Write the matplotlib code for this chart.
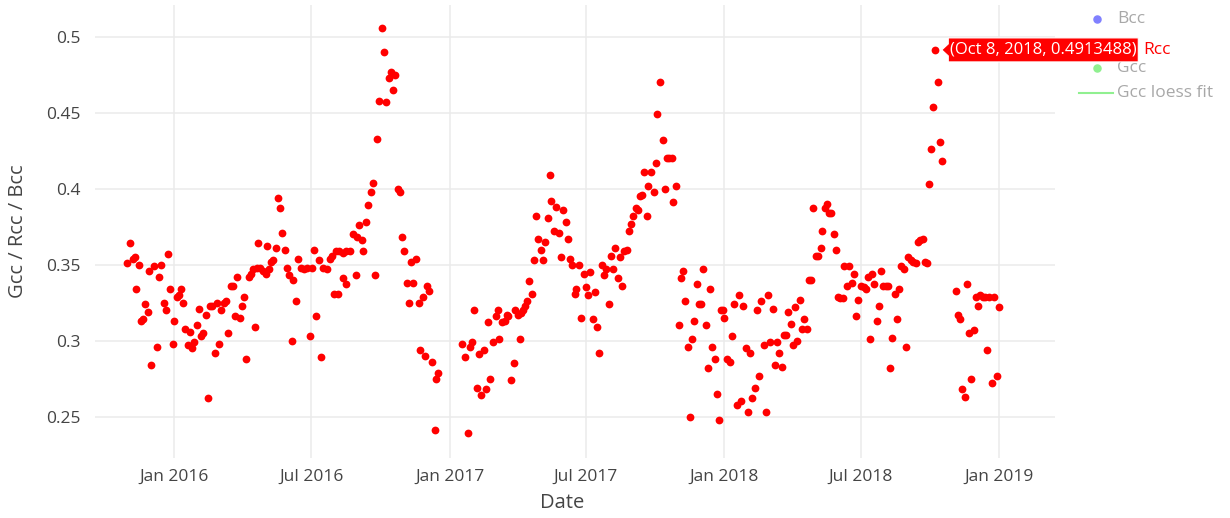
import matplotlib
matplotlib.use("Agg")
import matplotlib.pyplot as plt
import matplotlib.dates as mdates
from matplotlib.lines import Line2D
from matplotlib.patches import Polygon
from matplotlib.transforms import IdentityTransform
import pandas as pd

plt.rcParams["font.family"] = ["Open Sans", "DejaVu Sans"]

# Rcc observations (3-day product)
obs_dates = [
    "2015-10-31", "2015-11-03", "2015-11-07", "2015-11-10", "2015-11-12", "2015-11-15",
    "2015-11-18", "2015-11-21", "2015-11-24", "2015-11-27", "2015-11-29", "2015-12-02",
    "2015-12-05", "2015-12-09", "2015-12-12", "2015-12-15", "2015-12-18", "2015-12-21",
    "2015-12-24", "2015-12-27", "2015-12-30", "2016-01-01", "2016-01-05", "2016-01-07",
    "2016-01-10", "2016-01-13", "2016-01-16", "2016-01-19", "2016-01-22", "2016-01-25",
    "2016-01-28", "2016-01-31", "2016-02-03", "2016-02-06", "2016-02-09", "2016-02-12",
    "2016-02-15", "2016-02-18", "2016-02-21", "2016-02-24", "2016-02-27", "2016-03-01",
    "2016-03-04", "2016-03-07", "2016-03-10", "2016-03-13", "2016-03-16", "2016-03-19",
    "2016-03-22", "2016-03-25", "2016-03-28", "2016-03-31", "2016-04-03", "2016-04-06",
    "2016-04-09", "2016-04-12", "2016-04-15", "2016-04-18", "2016-04-20", "2016-04-21",
    "2016-04-24", "2016-04-28", "2016-05-02", "2016-05-03", "2016-05-06", "2016-05-09",
    "2016-05-12", "2016-05-15", "2016-05-18", "2016-05-21", "2016-05-24", "2016-05-27",
    "2016-05-30", "2016-06-02", "2016-06-05", "2016-06-07", "2016-06-11", "2016-06-14",
    "2016-06-18", "2016-06-22", "2016-06-26", "2016-06-29", "2016-07-02", "2016-07-05",
    "2016-07-08", "2016-07-11", "2016-07-14", "2016-07-17", "2016-07-22", "2016-07-26",
    "2016-07-29", "2016-08-01", "2016-08-03", "2016-08-06", "2016-08-07", "2016-08-12",
    "2016-08-13", "2016-08-16", "2016-08-17", "2016-08-22", "2016-08-25", "2016-08-29",
    "2016-08-31", "2016-09-03", "2016-09-06", "2016-09-08", "2016-09-12", "2016-09-15",
    "2016-09-18", "2016-09-21", "2016-09-24", "2016-09-27", "2016-09-29", "2016-10-03",
    "2016-10-06", "2016-10-09", "2016-10-12", "2016-10-15", "2016-10-18", "2016-10-21",
    "2016-10-24", "2016-10-27", "2016-10-30", "2016-11-02", "2016-11-05", "2016-11-08",
    "2016-11-11", "2016-11-14", "2016-11-17", "2016-11-21", "2016-11-23", "2016-11-26",
    "2016-11-29", "2016-12-02", "2016-12-05", "2016-12-08", "2016-12-12", "2016-12-14",
    "2016-12-17",
    "2017-01-18", "2017-01-22", "2017-01-25", "2017-01-28", "2017-01-31", "2017-02-03",
    "2017-02-06", "2017-02-09", "2017-02-12", "2017-02-15", "2017-02-18", "2017-02-21",
    "2017-02-24", "2017-02-27", "2017-03-03", "2017-03-06", "2017-03-08", "2017-03-11",
    "2017-03-15", "2017-03-18", "2017-03-20", "2017-03-23", "2017-03-27", "2017-03-29",
    "2017-04-02", "2017-04-05", "2017-04-06", "2017-04-08", "2017-04-11", "2017-04-14",
    "2017-04-17", "2017-04-20", "2017-04-23", "2017-04-26", "2017-04-29", "2017-05-02",
    "2017-05-05", "2017-05-08", "2017-05-11", "2017-05-14", "2017-05-16", "2017-05-19",
    "2017-05-22", "2017-05-26", "2017-05-29", "2017-05-31", "2017-06-04", "2017-06-07",
    "2017-06-10", "2017-06-13", "2017-06-16", "2017-06-18", "2017-06-22", "2017-06-25",
    "2017-06-28", "2017-07-01", "2017-07-04", "2017-07-07", "2017-07-10", "2017-07-13",
    "2017-07-16", "2017-07-19", "2017-07-22", "2017-07-25", "2017-07-28", "2017-07-31",
    "2017-08-03", "2017-08-06", "2017-08-09", "2017-08-12", "2017-08-15", "2017-08-18",
    "2017-08-21", "2017-08-24", "2017-08-27", "2017-08-30", "2017-09-02", "2017-09-05",
    "2017-09-08", "2017-09-11", "2017-09-13", "2017-09-16", "2017-09-20", "2017-09-22",
    "2017-09-26", "2017-09-29", "2017-10-02", "2017-10-04", "2017-10-08", "2017-10-11",
    "2017-10-14", "2017-10-17", "2017-10-20", "2017-10-23", "2017-10-25", "2017-10-29",
    "2017-11-01", "2017-11-04", "2017-11-07", "2017-11-10", "2017-11-13", "2017-11-16",
    "2017-11-19", "2017-11-22", "2017-11-25", "2017-11-28", "2017-12-01", "2017-12-04",
    "2017-12-07", "2017-12-10", "2017-12-13", "2017-12-16", "2017-12-19", "2017-12-22",
    "2017-12-25", "2017-12-27", "2017-12-30", "2018-01-01", "2018-01-05", "2018-01-08",
    "2018-01-11", "2018-01-14", "2018-01-17", "2018-01-20", "2018-01-23", "2018-01-26",
    "2018-01-29", "2018-02-01", "2018-02-04", "2018-02-07", "2018-02-10", "2018-02-13",
    "2018-02-16", "2018-02-19", "2018-02-22", "2018-02-25", "2018-02-28", "2018-03-03",
    "2018-03-06", "2018-03-09", "2018-03-12", "2018-03-15", "2018-03-18", "2018-03-21",
    "2018-03-24", "2018-03-27", "2018-03-30", "2018-04-02", "2018-04-05", "2018-04-08",
    "2018-04-11", "2018-04-14", "2018-04-17", "2018-04-20", "2018-04-23", "2018-04-26",
    "2018-04-29", "2018-05-02", "2018-05-05", "2018-05-09", "2018-05-11", "2018-05-14",
    "2018-05-17", "2018-05-20", "2018-05-23", "2018-05-26", "2018-05-29", "2018-06-01",
    "2018-06-04", "2018-06-07", "2018-06-09", "2018-06-13", "2018-06-15", "2018-06-19",
    "2018-06-22", "2018-06-25", "2018-06-28", "2018-07-01", "2018-07-05", "2018-07-08",
    "2018-07-11", "2018-07-13", "2018-07-16", "2018-07-19", "2018-07-22", "2018-07-25",
    "2018-07-28", "2018-07-31", "2018-08-03", "2018-08-06", "2018-08-09", "2018-08-12",
    "2018-08-15", "2018-08-18", "2018-08-21", "2018-08-24", "2018-08-28", "2018-08-30",
    "2018-09-02", "2018-09-06", "2018-09-09", "2018-09-12", "2018-09-15", "2018-09-18",
    "2018-09-22", "2018-09-24", "2018-09-27", "2018-09-29", "2018-10-02", "2018-10-05",
    "2018-10-08", "2018-10-11", "2018-10-14", "2018-10-17",
    "2018-11-04", "2018-11-07", "2018-11-10", "2018-11-13", "2018-11-16", "2018-11-19",
    "2018-11-22", "2018-11-25", "2018-11-28", "2018-12-01", "2018-12-04", "2018-12-07",
    "2018-12-10", "2018-12-13", "2018-12-16", "2018-12-19", "2018-12-22", "2018-12-25",
    "2018-12-29", "2019-01-01",
]

rcc = [
    0.351, 0.364, 0.354, 0.355, 0.334, 0.350, 0.313, 0.314, 0.324, 0.319, 0.346, 0.284,
    0.349, 0.296, 0.342, 0.350, 0.325, 0.320, 0.357, 0.334, 0.298, 0.313, 0.329, 0.330,
    0.334, 0.325, 0.308, 0.297, 0.306, 0.295, 0.299, 0.310, 0.321, 0.303, 0.305, 0.317,
    0.262, 0.323, 0.323, 0.292, 0.325, 0.298, 0.320, 0.325, 0.326, 0.305, 0.336, 0.336,
    0.316, 0.342, 0.315, 0.323, 0.329, 0.288, 0.342, 0.344, 0.347, 0.309, 0.348, 0.364,
    0.348, 0.346, 0.344, 0.362, 0.347, 0.352, 0.353, 0.361, 0.394, 0.387, 0.371, 0.360,
    0.348, 0.343, 0.300, 0.340, 0.326, 0.354, 0.348, 0.347, 0.348, 0.303, 0.348, 0.360,
    0.316, 0.353, 0.289, 0.348, 0.347, 0.354, 0.356, 0.331, 0.359, 0.331, 0.359, 0.358,
    0.341, 0.337, 0.359, 0.359, 0.370, 0.343, 0.368, 0.376, 0.366, 0.359, 0.378, 0.389,
    0.398, 0.404, 0.343, 0.433, 0.458, 0.506, 0.490, 0.457, 0.473, 0.477, 0.465, 0.475,
    0.400, 0.398, 0.368, 0.359, 0.338, 0.325, 0.352, 0.338, 0.354, 0.325, 0.294, 0.329,
    0.290, 0.336, 0.333, 0.286, 0.241, 0.275, 0.279,
    0.298, 0.289, 0.239, 0.296, 0.299, 0.320, 0.269, 0.291, 0.264, 0.294, 0.268, 0.312,
    0.275, 0.299, 0.316, 0.320, 0.301, 0.312, 0.313, 0.317, 0.316, 0.274, 0.285, 0.320,
    0.317, 0.301, 0.318, 0.320, 0.323, 0.326, 0.339, 0.331, 0.353, 0.382, 0.367, 0.360,
    0.353, 0.365, 0.381, 0.409, 0.392, 0.372, 0.388, 0.371, 0.355, 0.386, 0.378, 0.367,
    0.354, 0.350, 0.331, 0.334, 0.350, 0.315, 0.344, 0.335, 0.330, 0.345, 0.314, 0.332,
    0.309, 0.292, 0.350, 0.343, 0.347, 0.324, 0.356, 0.347, 0.361, 0.341, 0.355, 0.336,
    0.359, 0.360, 0.372, 0.377, 0.382, 0.387, 0.386, 0.395, 0.396, 0.411, 0.382, 0.402,
    0.411, 0.398, 0.417, 0.449, 0.470, 0.432, 0.400, 0.420, 0.420, 0.420, 0.391, 0.402,
    0.310, 0.341, 0.346, 0.326, 0.296, 0.250, 0.301, 0.313, 0.337, 0.324, 0.324, 0.347,
    0.310, 0.282, 0.334, 0.296, 0.288, 0.265, 0.248, 0.320, 0.320, 0.315, 0.288, 0.286,
    0.303, 0.324, 0.258, 0.330, 0.260, 0.323, 0.295, 0.253, 0.292, 0.262, 0.269, 0.320,
    0.277, 0.326, 0.297, 0.253, 0.330, 0.299, 0.321, 0.284, 0.299, 0.292, 0.283, 0.304,
    0.304, 0.319, 0.311, 0.297, 0.322, 0.300, 0.327, 0.308, 0.314, 0.308, 0.340, 0.340,
    0.387, 0.356, 0.356, 0.361, 0.372, 0.387, 0.390, 0.384, 0.384, 0.370, 0.360, 0.329,
    0.328, 0.328, 0.349, 0.336, 0.349, 0.338, 0.344, 0.316, 0.327, 0.336, 0.335, 0.334,
    0.342, 0.301, 0.344, 0.337, 0.313, 0.323, 0.346, 0.336, 0.336, 0.336, 0.282, 0.302,
    0.331, 0.314, 0.334, 0.349, 0.347, 0.296, 0.355, 0.353, 0.352, 0.351, 0.365, 0.366,
    0.367, 0.352, 0.351, 0.403, 0.426, 0.454, 0.4913488, 0.470, 0.431, 0.418,
    0.333, 0.317, 0.314, 0.268, 0.263, 0.337, 0.305, 0.275, 0.307, 0.329, 0.323, 0.330,
    0.329, 0.329, 0.294, 0.329, 0.272, 0.329, 0.277, 0.322,
]

x_tick_dates = ["2016-01-01", "2016-07-01", "2017-01-01", "2017-07-01",
                "2018-01-01", "2018-07-01", "2019-01-01"]
x_tick_labels = ["Jan 2016", "Jul 2016", "Jan 2017", "Jul 2017",
                 "Jan 2018", "Jul 2018", "Jan 2019"]
y_ticks = [0.25, 0.3, 0.35, 0.4, 0.45, 0.5]
y_tick_labels = ["0.25", "0.3", "0.35", "0.4", "0.45", "0.5"]
x_range = ["2015-09-18", "2019-03-16"]
y_range = [0.2228, 0.5209]

hover_date = "2018-10-08"
hover_trace = "Rcc"
legend_entries = [("Bcc", "marker", "#8080ff"),
                  ("Gcc", "marker", "#90f090"),
                  ("Gcc loess fit", "line", "#90f090")]

W, H = 1230, 518
fig = plt.figure(figsize=(W / 100, H / 100), dpi=100)
fig.patch.set_facecolor("white")


def fx(px):
    return px / W


def fy(py):
    return 1 - py / H


left, right, top, bottom = 95, 1055, 5, 458
ax = fig.add_axes([fx(left), fy(bottom), fx(right) - fx(left), fy(top) - fy(bottom)])

dates = pd.to_datetime(obs_dates)
ax.plot(dates, rcc, linestyle="none", marker="o", markersize=5.6,
        markerfacecolor="#ff0000", markeredgecolor="#ff0000", markeredgewidth=0,
        zorder=3)

ax.set_xlim(pd.to_datetime(x_range[0]), pd.to_datetime(x_range[1]))
ax.set_ylim(*y_range)
ax.set_xticks(pd.to_datetime(x_tick_dates))
ax.set_xticklabels(x_tick_labels)
ax.set_yticks(y_ticks)
ax.set_yticklabels(y_tick_labels)

ax.grid(True, color="#ebebeb", linewidth=1.1)
ax.set_axisbelow(True)
for s in ax.spines.values():
    s.set_visible(False)
ax.tick_params(axis="both", length=0, labelsize=12.5, labelcolor="#444444")
ax.tick_params(axis="x", pad=8)
ax.tick_params(axis="y", pad=10)

fig.text(fx(562), fy(503), "Date", ha="center", va="center",
         fontsize=14.5, color="#444444")
fig.text(fx(18), fy(231), "Gcc / Rcc / Bcc", ha="center", va="center",
         rotation=90, fontsize=14.5, color="#444444")

# hover label on the highlighted observation
i = obs_dates.index(hover_date)
hd = pd.to_datetime(hover_date)
px, py = ax.transData.transform((mdates.date2num(hd), rcc[i]))
box_l, box_r, half_h = px + 13, px + 203, 12
verts = [(px + 6.5, py), (box_l, py + 6), (box_l, py + half_h), (box_r, py + half_h),
         (box_r, py - half_h), (box_l, py - half_h), (box_l, py - 6)]
fig.add_artist(Polygon(verts, closed=True, transform=IdentityTransform(),
                       facecolor="#ff0000", edgecolor="white", linewidth=0.8,
                       zorder=10))
label = f"({hd:%b} {hd.day}, {hd.year}, {rcc[i]})"
fig.text((box_l + box_r) / 2, py, label, transform=IdentityTransform(),
         ha="center", va="center", fontsize=12, color="white", zorder=11)
fig.text(box_r + 5, py, hover_trace, transform=IdentityTransform(),
         ha="left", va="center", fontsize=12.5, color="#ff0000", zorder=11)

# legend (hidden traces drawn faded)
legend_rows = {"Bcc": 19, "Gcc": 68, "Gcc loess fit": 93}
for name, kind, color in legend_entries:
    yy = fy(legend_rows[name])
    if kind == "marker":
        fig.add_artist(Line2D([fx(1097)], [yy], marker="o", markersize=5.1,
                              color=color, linestyle="none"))
    else:
        fig.add_artist(Line2D([fx(1079), fx(1113)], [yy, yy], color=color,
                              linewidth=1.5))
    fig.text(fx(1117), yy, name, ha="left", va="center", fontsize=12.5,
             color="#a8a8a8")

fig.savefig("out.png", dpi=100, facecolor="white")
